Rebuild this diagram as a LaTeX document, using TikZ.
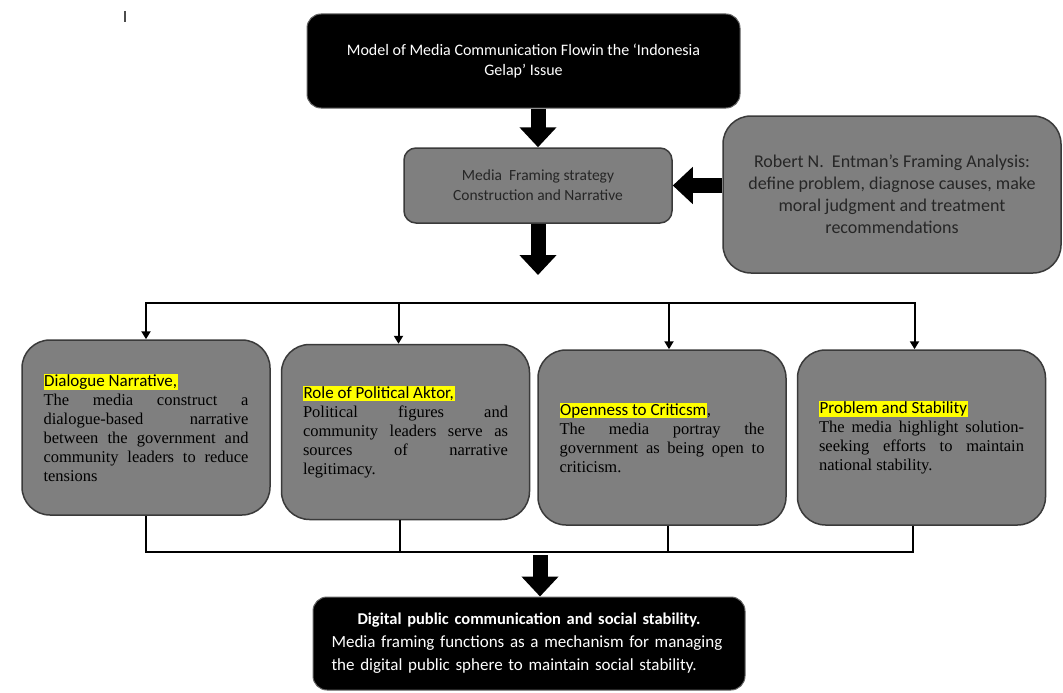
\documentclass[tikz,border=0pt]{standalone}
\usepackage{fontspec}
\setmainfont{Liberation Serif}
\newfontfamily\labelfont{Carlito}
\usetikzlibrary{arrows.meta,calc}
\definecolor{boxgray}{HTML}{7F7F7F}
\definecolor{edgegray}{HTML}{3A3A3A}
\definecolor{marker}{HTML}{FFFF00}
\newcommand{\hilite}[1]{{\setlength{\fboxsep}{0.6pt}\colorbox{marker}{#1}}}
\tikzset{
	blackbox/.style={draw=black!60, line width=1, fill=black, text=white, rounded corners=14, align=center},
	graybox/.style={draw=edgegray, line width=1.5, fill=boxgray, rounded corners=28},
	itembox/.style={graybox, minimum width=248, minimum height=175, text width=205, align=justify, font=\fontsize{16.5}{19}\selectfont},
	fat/.style={line width=15, -{Triangle[width=36,length=20]}},
	link/.style={line width=2},
	drop/.style={link, -{Triangle[width=9,length=8]}}
}

\begin{document}
\begin{tikzpicture}[x=1pt,y=-1pt]
			%%%%% START %%%%%
			
			\useasboundingbox (0,0) rectangle (1063,693);
			\draw[line width=1.2, black!70] (125,11) -- (125,22);
			
			\node[blackbox, minimum width=433, minimum height=94, font=\labelfont\fontsize{16}{20}\selectfont] (model) at (523.5,61) {Model of Media Communication Flowin the ‘Indonesia\\Gelap’ Issue};
			\node[graybox, rounded corners=12, minimum width=268, minimum height=75, align=center, text=black!85, font=\labelfont\fontsize{15.5}{20}\selectfont] (frame) at (538,185.5) {Media~ Framing strategy\\Construction and Narrative};
			\node[graybox, minimum width=338, minimum height=157, align=center, text=black!85, font=\labelfont\fontsize{18}{22}\selectfont] (entman) at (892,194.5) {Robert N.~ Entman’s Framing Analysis:\\define problem, diagnose causes, make\\moral judgment and treatment\\recommendations};
			
			\coordinate (fork) at (538,303);
			
			\node[itembox] (dialogue) at (146,427.5) {{\labelfont\fontsize{17}{19}\selectfont\hilite{Dialogue Narrative,}}\\The media construct a\linebreak dialogue-based narrative\linebreak between the government and\linebreak community leaders to reduce\linebreak tensions};
			\node[itembox] (actor) at (405.5,432) {{\labelfont\fontsize{17}{19}\selectfont\hilite{Role of Political Aktor,}}\\Political figures and\linebreak community leaders serve as\linebreak sources of narrative\linebreak legitimacy.};
			\node[itembox] (open) at (662,437.5) {{\labelfont\fontsize{17}{19}\selectfont\hilite{Openness to Criticsm},}\\The media portray the\linebreak government as being open to\linebreak criticism.};
			\node[itembox] (stable) at (921.5,437.5) {{\labelfont\fontsize{17}{19}\selectfont\hilite{Problem and Stability}}\\The media highlight solution-\linebreak seeking efforts to maintain\linebreak national stability.};
			
			\coordinate (join) at (540,552);
			
			\node[blackbox, minimum width=432, minimum height=93, text width=395, align=left, font=\labelfont\fontsize{17}{23}\selectfont] (outcome) at (529,643.5) {\makebox[\hsize]{\bfseries\fontsize{16.5}{23}\selectfont Digital public communication and social stability.}\\Media framing functions as a mechanism for managing\\the digital public sphere to maintain social stability.};
			
			\draw[fat] (model.south -| frame.north) -- (frame.north);
			\draw[fat] (entman.west |- frame.east) -- (frame.east);
			\draw[fat, shorten >=28] (frame.south) -- (fork);
			
			\draw[drop] (fork) -| (dialogue.north);
			\draw[drop] (fork) -| ([xshift=-7]actor.north);
			\draw[drop] (fork) -| ([xshift=7]open.north);
			\draw[drop] (fork) -| ([xshift=-7]stable.north);
			
			\draw[link] (dialogue.south) |- (join);
			\draw[link] ([xshift=-5.5]actor.south) |- (join);
			\draw[link] ([xshift=6]open.south) |- (join);
			\draw[link] ([xshift=-8.5]stable.south) |- (join);
			
			\draw[fat, shorten <=3] (join) -- (join |- outcome.north);
			
			%%%%% END %%%%%
\end{tikzpicture}
\end{document}
